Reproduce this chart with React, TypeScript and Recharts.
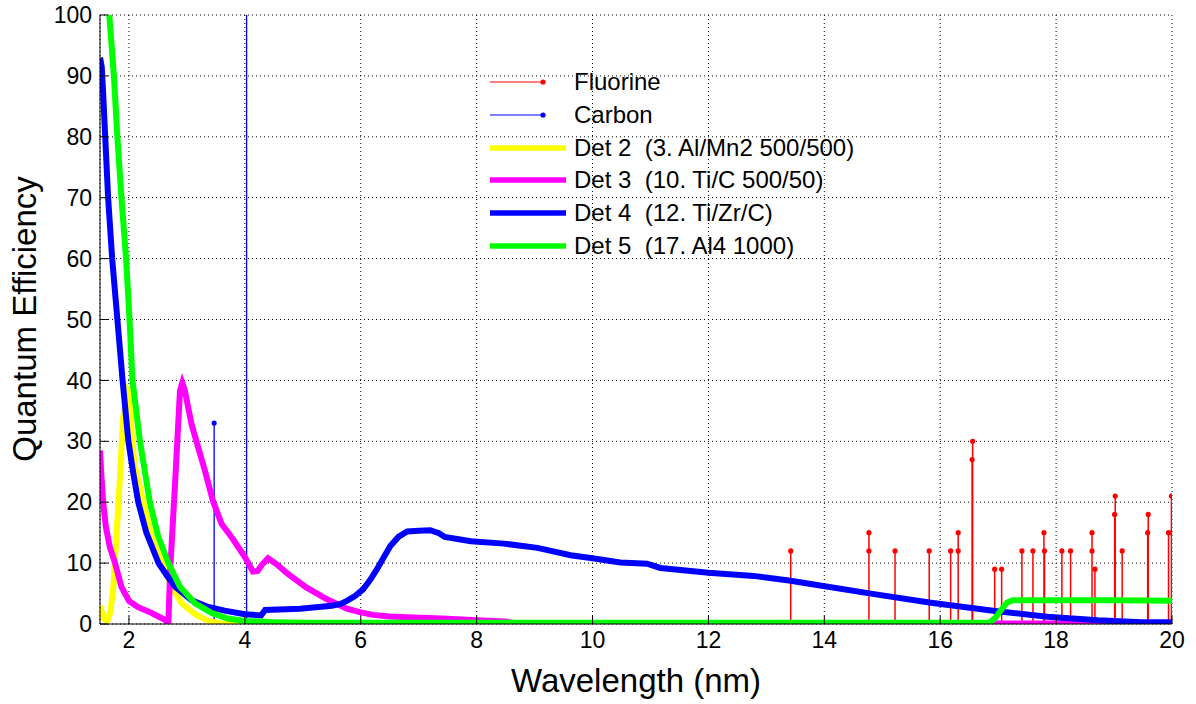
import { LineChart, Line, XAxis, YAxis, CartesianGrid, Legend } from "recharts"

const xTicks = [2, 4, 6, 8, 10, 12, 14, 16, 18, 20]
const yTicks = [0, 10, 20, 30, 40, 50, 60, 70, 80, 90, 100]

// emission lines (stems)
const fluorineX = [13.42, 14.77, 14.77, 15.22, 15.81, 16.18, 16.31, 16.31, 16.56, 16.55, 16.94, 17.06, 17.41, 17.6, 17.79, 17.8, 18.1, 18.25, 18.62, 18.62, 18.67, 19.02, 19.01, 19.14, 19.59, 19.58, 19.99, 19.94, 20.0]
const fluorineY = [12, 15, 12, 12, 12, 12, 15, 12, 30, 27, 9, 9, 12, 12, 15, 12, 12, 12, 15, 12, 9, 21, 18, 12, 18, 15, 21, 15, 15]
const carbonX = [3.47, 4.03]
const carbonY = [33, 150]

// detector curves
const det2X = [1.5, 1.56, 1.62, 1.68, 1.73, 1.82, 1.9, 1.97, 2.01, 2.05, 2.1, 2.26, 2.4, 2.59, 2.74, 2.91, 3.14, 3.37, 3.6, 4.0, 20]
const det2Y = [3, 1, 0.3, 2, 6, 20, 33.8, 38.5, 38, 31, 26, 19.5, 14, 9.5, 6, 3.4, 1.6, 0.5, 0.1, 0, 0]

const det3X = [1.5, 1.52, 1.55, 1.6, 1.67, 1.76, 1.87, 2.0, 2.15, 2.39, 2.62, 2.68, 2.71, 2.8, 2.88, 2.92, 2.96, 3.08, 3.2, 3.31, 3.45, 3.6, 3.79, 4.0, 4.14, 4.22, 4.3, 4.4, 4.55, 4.72, 5.06, 5.41, 5.76, 6.0, 6.21, 6.5, 6.8, 7.4, 8.0, 8.5, 8.7, 20]
const det3Y = [28.5, 25, 20.5, 16, 12.6, 10, 6.1, 3.8, 2.8, 1.8, 0.7, 0.2, 8.6, 23.9, 38.3, 39.6, 38.5, 32.8, 28.8, 25.2, 20.2, 16.4, 14.0, 11.0, 8.6, 8.7, 9.8, 10.8, 9.8, 8.4, 6.0, 4.1, 2.5, 1.9, 1.5, 1.25, 1.1, 0.9, 0.6, 0.4, 0.1, 0.1]

const det4X = [1.5, 1.53, 1.55, 1.59, 1.64, 1.71, 1.8, 1.89, 1.99, 2.07, 2.16, 2.3, 2.51, 2.65, 2.8, 3.08, 3.37, 3.65, 4.0, 4.28, 4.35, 4.95, 5.5, 5.65, 5.76, 5.9, 6.04, 6.16, 6.28, 6.4, 6.51, 6.65, 6.8, 7.0, 7.2, 7.35, 7.45, 7.9, 8.47, 9.05, 9.62, 10.0, 10.48, 10.94, 11.17, 12.0, 12.78, 13.42, 13.82, 14.86, 15.84, 16.98, 17.85, 18.72, 19.47, 20]
const det4Y = [93, 91.5, 88, 80, 70, 60, 50, 40, 30, 25, 20, 15, 10, 8, 6.1, 3.9, 2.8, 2.2, 1.6, 1.4, 2.3, 2.5, 3.0, 3.3, 3.8, 4.6, 5.7, 7.2, 9.0, 11.0, 12.8, 14.3, 15.2, 15.3, 15.4, 14.9, 14.3, 13.6, 13.2, 12.5, 11.3, 10.8, 10.1, 9.9, 9.2, 8.4, 7.9, 7.1, 6.5, 4.9, 3.5, 2.1, 1.2, 0.6, 0.3, 0.3]

const det5X = [1.5, 1.66, 1.74, 1.8, 1.87, 1.95, 2.01, 2.06, 2.19, 2.36, 2.5, 2.68, 2.88, 3.14, 3.43, 3.7, 4.0, 4.5, 5.0, 16.85, 16.95, 17.05, 17.15, 17.25, 18, 19, 20]
const det5Y = [120, 100, 90, 80, 70, 60, 50, 40, 30, 20, 14.5, 10, 6.1, 3.4, 1.8, 0.9, 0.5, 0.3, 0.2, 0.2, 1.0, 2.3, 3.5, 3.9, 3.9, 3.9, 3.8]

const legendItems = [
  { name: "Fluorine", color: "#ff0000", thick: false },
  { name: "Carbon", color: "#0000ff", thick: false },
  { name: "Det 2  (3. Al/Mn2 500/500)", color: "#ffff00", thick: true },
  { name: "Det 3  (10. Ti/C 500/50)", color: "#ff00ff", thick: true },
  { name: "Det 4  (12. Ti/Zr/C)", color: "#0000ff", thick: true },
  { name: "Det 5  (17. Al4 1000)", color: "#00ff00", thick: true },
]

const FONT = '"Liberation Sans", Arial, sans-serif'

const toPoints = (xs: number[], ys: number[]) => xs.map((x, i) => ({ x, y: ys[i] }))
const toStems = (xs: number[], ys: number[]) =>
  xs.flatMap((x, i) => [
    { x, y: 0, top: false },
    { x, y: ys[i], top: true },
    { x, y: null, top: false },
  ])

const det2 = toPoints(det2X, det2Y)
const det3 = toPoints(det3X, det3Y)
const det4 = toPoints(det4X, det4Y)
const det5 = toPoints(det5X, det5Y)
const fluorine = toStems(fluorineX, fluorineY)
const carbon = toStems(carbonX, carbonY)

const stemDot = (color: string) => (props: any) => {
  const { cx, cy, payload, index } = props
  if (!payload || !payload.top || cx == null || cy == null) return <g key={`d-${index}`} />
  return <circle key={`d-${index}`} cx={cx} cy={cy} r={2.6} fill={color} stroke="none" />
}

const renderLegend = () => (
  <div style={{ fontFamily: FONT, fontSize: 24, color: "#000" }}>
    {legendItems.map((item) => (
      <div key={item.name} style={{ display: "flex", alignItems: "center", height: 32.7 }}>
        <svg width={78} height={32} style={{ display: "block" }}>
          {item.thick ? (
            <line x1={0} y1={16} x2={76} y2={16} stroke={item.color} strokeWidth={5.5} />
          ) : (
            <>
              <line x1={0} y1={16} x2={53} y2={16} stroke={item.color} strokeWidth={1} />
              <circle cx={53} cy={16} r={2.6} fill={item.color} />
            </>
          )}
        </svg>
        <span style={{ marginLeft: 6, whiteSpace: "pre" }}>{item.name}</span>
      </div>
    ))}
  </div>
)

const tickStyle = { fontFamily: FONT, fontSize: 23, fill: "#000" }

export default function App() {
  return (
    <div style={{ position: "absolute", left: 0, top: 0, width: 1196, height: 704, background: "#fff" }}>
      <LineChart width={1196} height={704} margin={{ top: 15, right: 24, bottom: 40, left: 30 }}>
        <CartesianGrid stroke="#000" strokeDasharray="1 3" />
        <XAxis
          dataKey="x"
          type="number"
          domain={[1.5, 20]}
          ticks={xTicks}
          allowDataOverflow
          height={40}
          tickSize={-8}
          tickMargin={16}
          tick={tickStyle}
          stroke="#000"
          tickLine={{ stroke: "#000" }}
          label={{
            content: () => (
              <text x={636} y={692} textAnchor="middle" style={{ fontFamily: FONT, fontSize: 33, fill: "#000" }}>
                Wavelength (nm)
              </text>
            ),
          }}
        />
        <XAxis
          xAxisId="top"
          orientation="top"
          dataKey="x"
          type="number"
          domain={[1.5, 20]}
          ticks={xTicks}
          allowDataOverflow
          height={0}
          tickSize={-8}
          tickFormatter={() => ""}
          stroke="#000"
        />
        <YAxis
          type="number"
          domain={[0, 100]}
          ticks={yTicks}
          allowDataOverflow
          width={70}
          tickSize={-8}
          tickMargin={16}
          tick={tickStyle}
          stroke="#000"
          label={{
            content: () => (
              <text
                x={36}
                y={319}
                transform="rotate(-90, 36, 319)"
                textAnchor="middle"
                style={{ fontFamily: FONT, fontSize: 33, fill: "#000" }}
              >
                Quantum Efficiency
              </text>
            ),
          }}
        />
        <YAxis
          yAxisId="right"
          orientation="right"
          type="number"
          domain={[0, 100]}
          ticks={yTicks}
          allowDataOverflow
          width={0}
          tickSize={-8}
          tickFormatter={() => ""}
          stroke="#000"
        />
        <Legend
          layout="vertical"
          align="center"
          verticalAlign="middle"
          content={renderLegend}
          wrapperStyle={{ left: 490, top: 66, width: 420 }}
        />
        <Line data={fluorine} dataKey="y" name="Fluorine" stroke="#ff0000" strokeWidth={1.5} dot={stemDot("#ff0000")} activeDot={false} isAnimationActive={false} type="linear" />
        <Line data={carbon} dataKey="y" name="Carbon" stroke="#0000ff" strokeWidth={1.3} dot={stemDot("#0000ff")} activeDot={false} isAnimationActive={false} type="linear" />
        <Line data={det2} dataKey="y" name="Det 2" stroke="#ffff00" strokeWidth={6} dot={false} activeDot={false} isAnimationActive={false} type="linear" />
        <Line data={det3} dataKey="y" name="Det 3" stroke="#ff00ff" strokeWidth={6} dot={false} activeDot={false} isAnimationActive={false} type="linear" />
        <Line data={det4} dataKey="y" name="Det 4" stroke="#0000ff" strokeWidth={6} dot={false} activeDot={false} isAnimationActive={false} type="linear" />
        <Line data={det5} dataKey="y" name="Det 5" stroke="#00ff00" strokeWidth={6} dot={false} activeDot={false} isAnimationActive={false} type="linear" />
      </LineChart>
    </div>
  )
}
